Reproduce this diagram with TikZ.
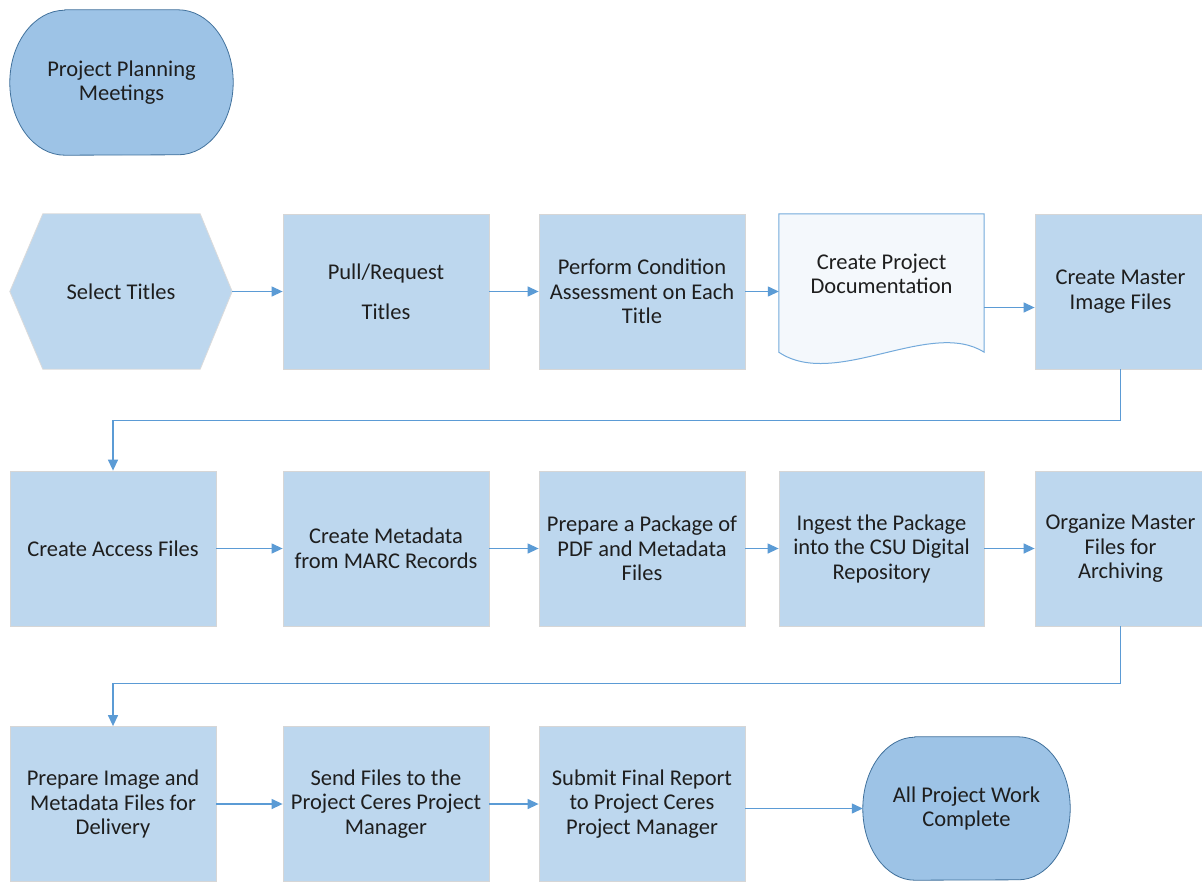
\documentclass[tikz,border=0pt]{standalone}
\usepackage{fontspec}
\setmainfont{Carlito}
\usetikzlibrary{arrows.meta}
\definecolor{boxblue}{HTML}{BDD7EE}
\definecolor{termblue}{HTML}{9DC3E6}
\definecolor{termedge}{HTML}{41719C}
\definecolor{arrowblue}{HTML}{5B9BD5}
\definecolor{txtgray}{HTML}{1E1E1E}
\definecolor{docfill}{HTML}{F4F8FC}
\tikzset{
  stepbox/.style={rectangle, fill=boxblue, draw=black!16, line width=0.8pt,
    minimum width=206pt, minimum height=155pt, inner sep=0pt, align=center,
    text=txtgray, font=\fontsize{22.5}{24.5}\selectfont},
  plain/.style={inner sep=0pt, align=center, text=txtgray, font=\fontsize{22.5}{24.5}\selectfont},
  frame/.style={plain, rectangle, minimum width=#1, minimum height=155pt},
  term/.style={fill=termblue, draw=termedge, line width=0.8pt},
  hexa/.style={fill=boxblue, draw=black!14, line width=0.8pt},
  docsh/.style={fill=docfill, draw=arrowblue!85, line width=1pt},
  conn/.style={draw=arrowblue, line width=1.3pt, -{Triangle[length=11pt,width=10pt]}},
}
\begin{document}
\begin{tikzpicture}[x=1pt,y=-1pt]
\clip (0,0) rectangle (1202,881);
\fill[white] (0,0) rectangle (1202,881);

% start terminator
\node[plain, minimum width=223pt, minimum height=145pt] (start) at (121.5,82.5) {};
\draw[term] ([xshift=55pt]start.north west) -- ([xshift=-55pt]start.north east)
  arc[start angle=90, end angle=0, x radius=55pt, y radius=72.5pt]
  arc[start angle=0, end angle=-90, x radius=55pt, y radius=72.5pt]
  -- ([xshift=55pt]start.south west)
  arc[start angle=270, end angle=180, x radius=55pt, y radius=72.5pt]
  arc[start angle=180, end angle=90, x radius=55pt, y radius=72.5pt] -- cycle;
\node[plain] at (start.center) {Project Planning\\Meetings};

% row 1
\node[plain, minimum width=222pt, minimum height=155pt] (sel) at (121,291.5) {};
\draw[hexa] (sel.west) -- ([xshift=33pt]sel.north west) -- ([xshift=-32pt]sel.north east)
  -- (sel.east) -- ([xshift=-32pt]sel.south east) -- ([xshift=33pt]sel.south west) -- cycle;
\node[plain] at (sel.center) {Select Titles};

\node[stepbox] (pull) at (386,291.5) {Pull/Request\\[15.5pt]Titles};
\node[stepbox] (cond) at (642,291.5) {Perform Condition\\Assessment on Each\\Title};

\node[frame=205pt] (doc) at (881.5,291.5) {};
\draw[docsh] (doc.north west) -- (doc.north east) -- ([yshift=17pt]doc.south east)
  .. controls (930,318) and (835,390) .. ([yshift=17pt]doc.south west) -- cycle;
\node[plain] at ([yshift=17.5pt]doc.center) {Create Project\\Documentation};

\node[stepbox, minimum width=171pt] (master) at (1120.5,291.5) {Create Master\\Image Files};

% row 2
\node[stepbox] (access) at (113,548.5) {Create Access Files};
\node[stepbox] (meta) at (386,548.5) {Create Metadata\\from MARC Records};
\node[stepbox] (pkg) at (642,548.5) {Prepare a Package of\\PDF and Metadata\\Files};
\node[stepbox, minimum width=205pt] (ingest) at (881.5,548.5) {Ingest the Package\\into the CSU Digital\\Repository};
\node[stepbox, minimum width=171pt] (org) at (1120.5,548.5) {Organize Master\\Files for\\Archiving};

% row 3
\node[stepbox] (prepimg) at (113,804) {Prepare Image and\\Metadata Files for\\Delivery};
\node[stepbox] (send) at (386,804) {Send Files to the\\Project Ceres Project\\Manager};
\node[stepbox] (submit) at (642,804) {Submit Final Report\\to Project Ceres\\Project Manager};

\node[plain, minimum width=207pt, minimum height=143pt] (finish) at (966.5,808.5) {};
\draw[term] ([xshift=52pt]finish.north west) -- ([xshift=-52pt]finish.north east)
  arc[start angle=90, end angle=0, x radius=52pt, y radius=71.5pt]
  arc[start angle=0, end angle=-90, x radius=52pt, y radius=71.5pt]
  -- ([xshift=52pt]finish.south west)
  arc[start angle=270, end angle=180, x radius=52pt, y radius=71.5pt]
  arc[start angle=180, end angle=90, x radius=52pt, y radius=71.5pt] -- cycle;
\node[plain] at (finish.center) {All Project Work\\Complete};

% connectors
\draw[conn] (sel.east) -- (pull.west);
\draw[conn] (pull.east) -- (cond.west);
\draw[conn] (cond.east) -- (doc.west);
\draw[conn] ([yshift=-16pt]doc.east) -- ([yshift=-16pt]master.west);
\draw[conn] (master.south) -- ++(0,51) -| (access.north);

\draw[conn] (access.east) -- (meta.west);
\draw[conn] (meta.east) -- (pkg.west);
\draw[conn] (pkg.east) -- (ingest.west);
\draw[conn] (ingest.east) -- (org.west);
\draw[conn] (org.south) -- ++(0,57) -| (prepimg.north);

\draw[conn] (prepimg.east) -- (send.west);
\draw[conn] (send.east) -- (submit.west);
\draw[conn] (submit.east |- finish.west) -- (finish.west);
\end{tikzpicture}
\end{document}
